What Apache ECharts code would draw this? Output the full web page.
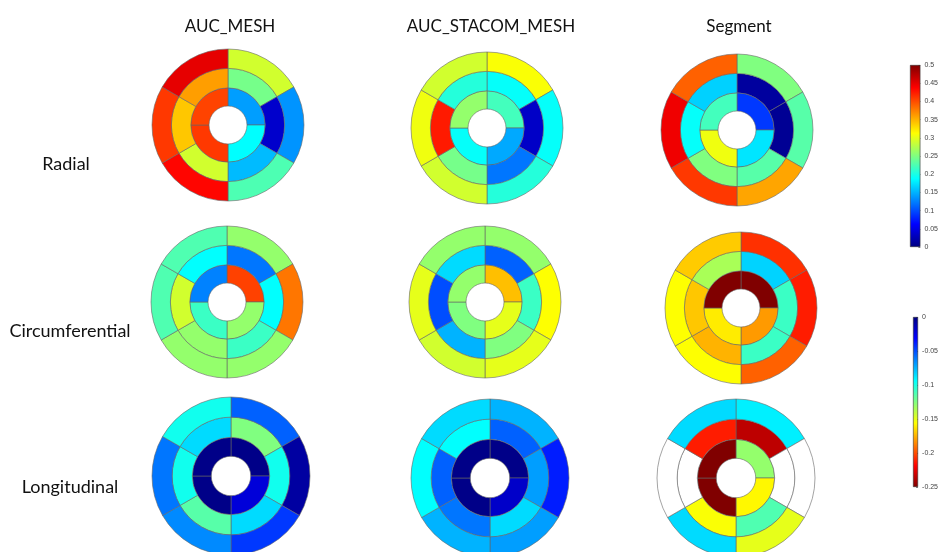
<!DOCTYPE html>
<html>
<head>
<meta charset="utf-8">
<script src="https://cdn.jsdelivr.net/npm/echarts@6/dist/echarts.min.js"></script>
<style>
  html, body { margin: 0; padding: 0; background: #fff; }
  #main { width: 941px; height: 552px; }
</style>
</head>
<body>
<div id="main"></div>
<script>
// column / row titles
var columnNames = ["AUC_MESH", "AUC_STACOM_MESH", "Segment"];
var rowNames = ["Radial", "Circumferential", "Longitudinal"];

// each plot: 6 basal, 6 mid, 4 apical values, clockwise from 12 o'clock
var radialAucMesh   = [0.29, 0.135, 0.225, 0.435, 0.41, 0.45,   0.245, 0.0375, 0.154, 0.29, 0.34, 0.36,   0.14, 0.1875, 0.41, 0.405];
var radialStacom    = [0.31, 0.19, 0.205, 0.29, 0.305, 0.29,    0.19, 0.035, 0.12, 0.245, 0.425, 0.205,    0.22, 0.145, 0.19, 0.26];
var radialSegment   = [0.25, 0.23, 0.357, 0.41, 0.445, 0.39,    0.015, 0.01, 0.23, 0.25, 0.19, 0.165,      0.09, 0.175, 0.305, 0.22];
var circAucMesh     = [-0.13, -0.19, -0.13, -0.13, -0.113, -0.113,  -0.06, -0.094, -0.108, -0.13, -0.145, -0.094,  -0.203, -0.13, -0.108, -0.063];
var circStacom      = [-0.13, -0.156, -0.15, -0.145, -0.15, -0.13,  -0.055, -0.108, -0.125, -0.075, -0.05, -0.085,  -0.172, -0.15, -0.125, -0.13];
var circSegment     = [-0.207, -0.212, -0.195, -0.156, -0.156, -0.169,  -0.083, -0.108, -0.108, -0.175, -0.17, -0.135,  -0.25, -0.181, -0.161, -0.25];
var longAucMesh     = [-0.055, -0.008, -0.045, -0.065, -0.06, -0.098,  -0.125, -0.098, -0.085, -0.115, -0.098, -0.085,  -0.002, -0.022, -0.002, -0.002];
var longStacom      = [-0.075, -0.038, -0.07, -0.075, -0.094, -0.085,  -0.055, -0.07, -0.085, -0.06, -0.055, -0.094,  -0.002, -0.018, -0.002, -0.002];
var longSegment     = [-0.09, null, -0.15, -0.085, null, -0.085,  -0.235, null, -0.113, -0.155, null, -0.212,  -0.13, -0.158, -0.25, -0.25];

// colour scale ranges
var radialRange = [0, 0.5];
var strainRange = [-0.25, 0];

var plots = [
  [radialAucMesh, radialStacom, radialSegment],
  [circAucMesh, circStacom, circSegment],
  [longAucMesh, longStacom, longSegment]
];

// jet colormap stops
var jet = ["#000080", "#0000ff", "#0080ff", "#00ffff", "#80ff80", "#ffff00", "#ff8000", "#ff0000", "#800000"];

var centers = [
  [[228, 125], [487, 128], [737, 130]],
  [[227, 302], [485, 302], [741, 308]],
  [[231, 476], [490, 478], [736, 478]]
];
var outerR = [76, 76, 79];
var ringFrac = [0.25, 0.49, 0.745, 1];

function colorOf(v, row) {
  if (v === null) return "#ffffff";
  var t;
  if (row === 0) t = (v - radialRange[0]) / (radialRange[1] - radialRange[0]);
  else t = (strainRange[1] - v) / (strainRange[1] - strainRange[0]);
  t = Math.max(0, Math.min(1, t));
  return echarts.color.lerp(t, jet);
}

var chart = echarts.init(document.getElementById("main"));
var series = [];

for (var r = 0; r < 3; r++) {
  for (var c = 0; c < 3; c++) {
    var vals = plots[r][c];
    var R = outerR[r];
    var rings = [vals.slice(12, 16), vals.slice(6, 12), vals.slice(0, 6)];
    for (var k = 0; k < 3; k++) {
      series.push({
        type: "pie",
        silent: true,
        center: centers[r][c],
        radius: [R * ringFrac[k], R * ringFrac[k + 1]],
        startAngle: 90,
        clockwise: true,
        label: { show: false },
        labelLine: { show: false },
        emphasis: { disabled: true },
        animation: false,
        data: rings[k].map(function (v, i) {
          return {
            value: 1,
            name: "s" + i,
            itemStyle: { color: colorOf(v, r), borderColor: "#666", borderWidth: 0.6 }
          };
        })
      });
    }
  }
}

// colour bars
series.push({
  type: "bar",
  xAxisIndex: 0,
  yAxisIndex: 0,
  barWidth: "100%",
  silent: true,
  animation: false,
  data: [radialRange[1]],
  itemStyle: {
    borderColor: "#333",
    borderWidth: 0.6,
    color: new echarts.graphic.LinearGradient(0, 0, 0, 1, jet.slice().reverse().map(function (col, i) {
      return { offset: i / (jet.length - 1), color: col };
    }))
  }
});
series.push({
  type: "bar",
  xAxisIndex: 1,
  yAxisIndex: 1,
  barWidth: "100%",
  silent: true,
  animation: false,
  data: [strainRange[0]],
  itemStyle: {
    borderColor: "#333",
    borderWidth: 0.6,
    color: new echarts.graphic.LinearGradient(0, 0, 0, 1, jet.map(function (col, i) {
      return { offset: i / (jet.length - 1), color: col };
    }))
  }
});

function cbAxis(gridIndex, range) {
  return {
    type: "value",
    gridIndex: gridIndex,
    position: "right",
    min: range[0],
    max: range[1],
    interval: 0.05,
    axisLine: { show: false },
    axisTick: { show: true, inside: true, length: 2, lineStyle: { color: "#333", width: 0.6 } },
    splitLine: { show: false },
    axisLabel: { fontSize: 7, color: "#444", margin: 4, fontFamily: "Liberation Sans" }
  };
}

var graphics = [];
columnNames.forEach(function (name, i) {
  graphics.push({
    type: "text",
    x: centers[0][i][0] + (i === 1 ? 4 : 2),
    y: 27,
    style: { text: name, font: "17px Lato", fill: "#111", textAlign: "center", textVerticalAlign: "middle" }
  });
});
var rowX = [66, 70, 70];
var rowY = [164, 331, 487];
rowNames.forEach(function (name, i) {
  graphics.push({
    type: "text",
    x: rowX[i],
    y: rowY[i],
    style: { text: name, font: "18px Lato", fill: "#111", textAlign: "center", textVerticalAlign: "middle" }
  });
});

chart.setOption({
  backgroundColor: "#fff",
  animation: false,
  grid: [
    { left: 910, top: 65, width: 12, height: 182 },
    { left: 913, top: 317, width: 12, height: 170 }
  ],
  xAxis: [
    { type: "category", gridIndex: 0, data: [""], show: false },
    { type: "category", gridIndex: 1, data: [""], show: false }
  ],
  yAxis: [cbAxis(0, radialRange), cbAxis(1, strainRange)],
  graphic: graphics,
  series: series
});
</script>
</body>
</html>
